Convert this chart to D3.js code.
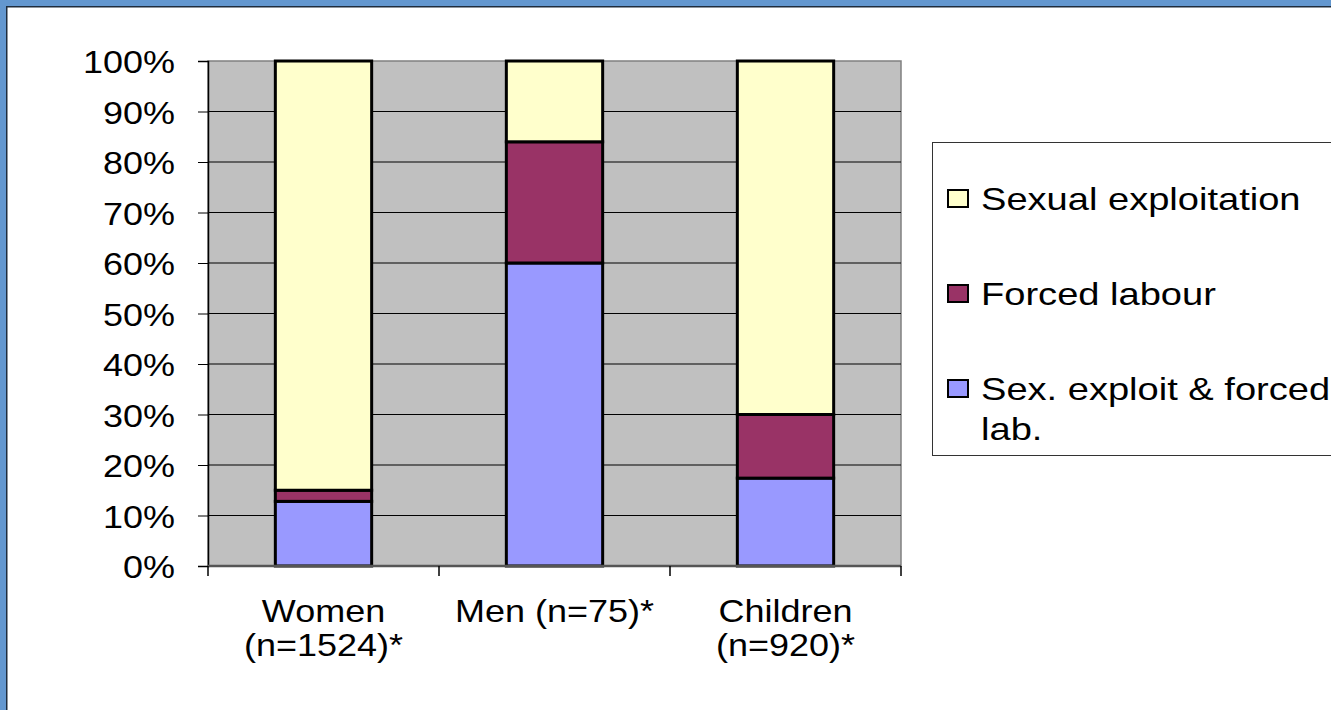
<!DOCTYPE html>
<html>
    <head>
        <script src="https://cdn.jsdelivr.net/npm/d3@7"></script>
        <style>
            body { margin: 0; background: #fff; }
            text { font-family: "Liberation Sans", Arial, sans-serif; fill: #000; }
        </style>
    </head>
    <body>
        <div class="chart"></div>
    </body>
    <script>
        // chart values (percent of each group)
        const categories = ["Women (n=1524)*", "Men (n=75)*", "Children (n=920)*"];
        const categoryLines = [["Women", "(n=1524)*"], ["Men (n=75)*"], ["Children", "(n=920)*"]];
        const seriesNames = ["Sex. exploit & forced lab.", "Forced labour", "Sexual exploitation"];
        const sexExploitForced = [12.8, 60, 17.4];
        const forcedLabour = [2.2, 24, 12.6];
        const sexualExploitation = [85, 16, 70];
        const yTicks = [0, 10, 20, 30, 40, 50, 60, 70, 80, 90, 100];

        const colors = ["#9999ff", "#993366", "#ffffcc"];

        const width = 1331;
        const height = 710;
        const margin = ({top: 61, right: 430, bottom: 144, left: 208});
        const stretch = 1.125;
        const legendStretch = 1.19;

        const rows = categories.map((c, i) => ({
            cat: c,
            [seriesNames[0]]: sexExploitForced[i],
            [seriesNames[1]]: forcedLabour[i],
            [seriesNames[2]]: sexualExploitation[i]
        }));
        const stacked = d3.stack().keys(seriesNames)(rows);

        const svg = d3.select(".chart").append("svg")
            .attr("width", width).attr("height", height);

        svg.append("rect").attr("width", width).attr("height", height).attr("fill", "#fff");

        // window frame, left and top edges
        svg.append("rect").attr("x", 0).attr("y", 0).attr("width", width).attr("height", 6).attr("fill", "#6397cf");
        svg.append("rect").attr("x", 0).attr("y", 0).attr("width", 6).attr("height", height).attr("fill", "#6397cf");
        svg.append("rect").attr("x", 6).attr("y", 6).attr("width", width).attr("height", 1.5).attr("fill", "#1e2c3c");
        svg.append("rect").attr("x", 6).attr("y", 6).attr("width", 1.5).attr("height", height).attr("fill", "#1e2c3c");

        const x = d3.scaleBand()
            .domain(categories)
            .range([margin.left, width - margin.right])
            .paddingInner(0.583)
            .paddingOuter(0.2915);
        const y = d3.scaleLinear()
            .domain([0, 100])
            .range([height - margin.bottom, margin.top]);

        const x0 = margin.left, x1 = width - margin.right;
        const y0 = y(0), y1 = y(100);

        // plot area
        svg.append("rect")
            .attr("x", x0).attr("y", y1).attr("width", x1 - x0).attr("height", y0 - y1)
            .attr("fill", "#c0c0c0").attr("stroke", "#808080").attr("stroke-width", 1.5);

        // gridlines
        svg.append("g").selectAll("line").data(yTicks.slice(1, -1)).join("line")
            .attr("x1", x0).attr("x2", x1)
            .attr("y1", d => y(d)).attr("y2", d => y(d))
            .attr("stroke", "#000").attr("stroke-width", 1);

        // bars
        svg.append("g").selectAll("g").data(stacked).join("g")
            .attr("fill", (d, i) => colors[i])
            .selectAll("rect").data(d => d).join("rect")
            .attr("x", d => x(d.data.cat))
            .attr("width", x.bandwidth())
            .attr("y", d => y(d[1]))
            .attr("height", d => y(d[0]) - y(d[1]))
            .attr("stroke", "#000").attr("stroke-width", 3);

        // y axis
        const yAxis = svg.append("g")
            .attr("transform", `translate(${x0},0)`)
            .call(d3.axisLeft(y).tickValues(yTicks).tickSize(10).tickFormat(d => d + "%"));
        yAxis.select(".domain").attr("stroke", "#000").attr("stroke-width", 1.5);
        yAxis.selectAll(".tick line").attr("stroke", "#000");
        yAxis.selectAll(".tick text").remove();
        yAxis.selectAll(".tick").append("text")
            .attr("transform", `translate(-33,0) scale(${stretch},1)`)
            .attr("dy", "0.36em")
            .attr("text-anchor", "end")
            .style("font-size", "32px")
            .text(d => d + "%");

        // x axis with ticks at category boundaries
        const step = x.step();
        const bounds = d3.range(categories.length + 1).map(i => x0 + i * step);
        svg.append("line")
            .attr("x1", x0).attr("x2", x1).attr("y1", y0).attr("y2", y0)
            .attr("stroke", "#555").attr("stroke-width", 2.5);
        svg.append("g").selectAll("line").data(bounds).join("line")
            .attr("x1", d => d).attr("x2", d => d)
            .attr("y1", y0).attr("y2", y0 + 10)
            .attr("stroke", "#000").attr("stroke-width", 1.5);

        const xl = svg.append("g").selectAll("g").data(categories).join("g")
            .attr("transform", d => `translate(${x(d) + x.bandwidth() / 2},${y0 + 56})`);
        xl.selectAll("text").data((d, i) => categoryLines[i]).join("text")
            .attr("transform", (d, j) => `translate(0,${j * 34}) scale(${stretch},1)`)
            .attr("text-anchor", "middle")
            .style("font-size", "32px")
            .text(d => d);

        // legend
        const lg = svg.append("g").attr("transform", "translate(932,142)");
        lg.append("rect")
            .attr("x", 0.5).attr("y", 0.5).attr("width", 460).attr("height", 313)
            .attr("fill", "#fff").attr("stroke", "#333").attr("stroke-width", 1);
        const legendItems = [
            {name: "Sexual exploitation", lines: ["Sexual exploitation"], color: colors[2]},
            {name: "Forced labour", lines: ["Forced labour"], color: colors[1]},
            {name: "Sex. exploit & forced lab.", lines: ["Sex. exploit & forced", "lab."], color: colors[0]}
        ];
        const li = lg.selectAll("g.item").data(legendItems).join("g")
            .attr("class", "item")
            .attr("transform", (d, i) => `translate(0,${57 + i * 95})`);
        li.append("rect")
            .attr("x", 16).attr("y", -9).attr("width", 20).attr("height", 17)
            .attr("fill", d => d.color).attr("stroke", "#000").attr("stroke-width", 2);
        li.selectAll("text").data(d => d.lines).join("text")
            .attr("transform", (d, j) => `translate(49,${11 + j * 40}) scale(${legendStretch},1)`)
            .style("font-size", "32px")
            .text(d => d);
    </script>
</html>
